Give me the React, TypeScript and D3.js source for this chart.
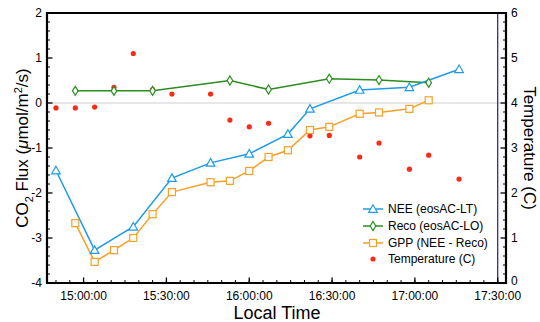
import React from 'react';
import * as d3 from 'd3';

// Data (times are local HH:MM)
const neeTimes = ['14:50', '15:04', '15:18', '15:32', '15:46', '16:00', '16:14', '16:22', '16:40', '16:58', '17:16'];
const neeValues = [-1.5, -3.27, -2.75, -1.67, -1.33, -1.13, -0.69, -0.13, 0.29, 0.35, 0.75];

const recoTimes = ['14:57', '15:11', '15:25', '15:53', '16:07', '16:29', '16:47', '17:05'];
const recoValues = [0.27, 0.27, 0.27, 0.5, 0.3, 0.54, 0.51, 0.45];

const gppTimes = ['14:57', '15:04', '15:11', '15:18', '15:25', '15:32', '15:46', '15:53', '16:00', '16:07', '16:14', '16:22', '16:29', '16:40', '16:47', '16:58', '17:05'];
const gppValues = [-2.67, -3.53, -3.27, -3.0, -2.47, -1.98, -1.76, -1.73, -1.51, -1.2, -1.05, -0.6, -0.53, -0.24, -0.21, -0.13, 0.06];

const tempTimes = ['14:50', '14:57', '15:04', '15:11', '15:18', '15:25', '15:32', '15:46', '15:53', '16:00', '16:07', '16:14', '16:22', '16:29', '16:40', '16:47', '16:58', '17:05', '17:16'];
const tempValues = [3.89, 3.89, 3.91, 4.35, 5.1, 4.3, 4.2, 4.2, 3.62, 3.47, 3.55, 3.29, 3.27, 3.28, 2.8, 3.11, 2.53, 2.84, 2.31];

const xTickLabels = ['15:00:00', '15:30:00', '16:00:00', '16:30:00', '17:00:00', '17:30:00'];
const markerTime = '17:30';

const legendLabels = ['NEE (eosAC-LT)', 'Reco (eosAC-LO)', 'GPP (NEE - Reco)', 'Temperature (C)'];

const W = 540;
const H = 322;
const margin = { top: 13, right: 34, bottom: 39, left: 47 };

const FONT = '"Liberation Sans", Arial, Helvetica, sans-serif';
const C_NEE = '#1f9be6';
const C_RECO = '#2b8c1f';
const C_GPP = '#f6a027';
const C_TEMP = '#fb2a16';

const parseT = (s: string) => {
  const [h, m, sec] = s.split(':').map(Number);
  return new Date(2020, 0, 1, h, m, sec || 0);
};

const Triangle = ({ x, y, c }: { x: number; y: number; c: string }) => (
  <path d={`M${x},${y - 4.3}L${x + 4.3},${y + 3.3}L${x - 4.3},${y + 3.3}Z`} fill="#fff" stroke={c} strokeWidth={1.2} />
);
const Diamond = ({ x, y, c }: { x: number; y: number; c: string }) => (
  <path d={`M${x},${y - 4.5}L${x + 2.8},${y}L${x},${y + 4.5}L${x - 2.8},${y}Z`} fill="#fff" stroke={c} strokeWidth={1.2} />
);
const Square = ({ x, y, c }: { x: number; y: number; c: string }) => (
  <rect x={x - 3.5} y={y - 3.5} width={7} height={7} fill="#fff" stroke={c} strokeWidth={1.2} />
);

export default function App() {
  const iw = W - margin.left - margin.right;
  const ih = H - margin.top - margin.bottom;

  const x = d3.scaleTime()
    .domain([parseT('14:46:45'), parseT('17:33:00')])
    .range([margin.left, margin.left + iw]);
  const y = d3.scaleLinear().domain([-4, 2]).range([margin.top + ih, margin.top]);
  const yT = d3.scaleLinear().domain([0, 6]).range([margin.top + ih, margin.top]);

  const line = (times: string[], vals: number[]) =>
    d3.line<number>().x((_, i) => x(parseT(times[i]))).y(d => y(d))(vals) || '';

  const bottom = margin.top + ih;
  const left = margin.left;
  const right = margin.left + iw;

  const yMajor = d3.range(-4, 2.001, 1);
  const yMinor = d3.range(-4, 2.001, 0.2).filter(v => Math.abs(v - Math.round(v)) > 0.01);
  const tMajor = d3.range(0, 6.001, 1);
  const tMinor = d3.range(0, 6.001, 0.2).filter(v => Math.abs(v - Math.round(v)) > 0.01);
  const xMinor = d3.timeMinute.every(5)!.range(x.domain()[0], x.domain()[1]);

  const legX = 363;
  const legY = [209, 226, 243, 259];

  return (
    <svg width={W} height={H} style={{ position: 'absolute', left: 0, top: 0, background: '#fff' }} fontFamily={FONT}>
      {/* zero line */}
      <line x1={left} x2={right} y1={y(0)} y2={y(0)} stroke="#cfcfcf" strokeWidth={1} />
      {/* vertical marker */}
      <line x1={x(parseT(markerTime))} x2={x(parseT(markerTime))} y1={margin.top} y2={bottom} stroke="#1b1f8a" strokeWidth={1.2} />

      {/* series lines */}
      <path d={line(recoTimes, recoValues)} fill="none" stroke={C_RECO} strokeWidth={1.5} />
      <path d={line(gppTimes, gppValues)} fill="none" stroke={C_GPP} strokeWidth={1.5} />
      <path d={line(neeTimes, neeValues)} fill="none" stroke={C_NEE} strokeWidth={1.5} />

      {tempValues.map((v, i) => (
        <circle key={'t' + i} cx={x(parseT(tempTimes[i]))} cy={yT(v)} r={2.6} fill={C_TEMP} />
      ))}
      {recoValues.map((v, i) => <Diamond key={'r' + i} x={x(parseT(recoTimes[i]))} y={y(v)} c={C_RECO} />)}
      {gppValues.map((v, i) => <Square key={'g' + i} x={x(parseT(gppTimes[i]))} y={y(v)} c={C_GPP} />)}
      {neeValues.map((v, i) => <Triangle key={'n' + i} x={x(parseT(neeTimes[i]))} y={y(v)} c={C_NEE} />)}

      {/* frame */}
      <path d={`M${left},${bottom}V${margin.top}H${right}V${bottom}Z`} fill="none" stroke="#000" strokeWidth={2.2} />

      {/* left axis ticks */}
      {yMinor.map(v => <line key={'ym' + v} x1={left} x2={left + 3} y1={y(v)} y2={y(v)} stroke="#000" strokeWidth={1} />)}
      {yMajor.map(v => (
        <g key={'yM' + v}>
          <line x1={left} x2={left + 5.5} y1={y(v)} y2={y(v)} stroke="#000" strokeWidth={1.3} />
          <text x={left - 5} y={y(v)} dy="0.35em" textAnchor="end" fontSize={12}>{v}</text>
        </g>
      ))}

      {/* right axis ticks */}
      {tMinor.map(v => <line key={'tm' + v} x1={right} x2={right - 3} y1={yT(v)} y2={yT(v)} stroke="#000" strokeWidth={1} />)}
      {tMajor.map(v => (
        <g key={'tM' + v}>
          <line x1={right} x2={right - 5.5} y1={yT(v)} y2={yT(v)} stroke="#000" strokeWidth={1.3} />
          <text x={right + 5} y={yT(v) - (v === 0 ? 2 : 0)} dy="0.35em" textAnchor="start" fontSize={12}>{v}</text>
        </g>
      ))}

      {/* bottom axis ticks */}
      {xMinor.map((d, i) => <line key={'xm' + i} x1={x(d)} x2={x(d)} y1={bottom} y2={bottom - 3} stroke="#000" strokeWidth={1} />)}
      {xTickLabels.map(s => (
        <g key={s}>
          <line x1={x(parseT(s))} x2={x(parseT(s))} y1={bottom} y2={bottom - 5.5} stroke="#000" strokeWidth={1.3} />
          <text x={x(parseT(s))} y={bottom + 12.5} dy="0.35em" textAnchor="middle" fontSize={12}>{s}</text>
        </g>
      ))}

      {/* axis titles */}
      <text x={277} y={313} dy="0.35em" textAnchor="middle" fontSize={18}>Local Time</text>
      <text transform={`translate(22,${(margin.top + bottom) / 2}) rotate(-90)`} textAnchor="middle" dy="0.35em" fontSize={17}>
        CO<tspan fontSize={11} dy="5">2</tspan><tspan dy="-5"> Flux (</tspan><tspan fontStyle="italic">μ</tspan>mol/m<tspan fontSize={11} dy="-6">2</tspan><tspan dy="6">/s)</tspan>
      </text>
      <text transform={`translate(530,${(margin.top + bottom) / 2}) rotate(90)`} textAnchor="middle" dy="0.35em" fontSize={17}>Temperature (C)</text>

      {/* legend */}
      {legendLabels.map((lab, i) => {
        const ly = legY[i];
        const cx = legX + 10;
        return (
          <g key={lab}>
            {i === 0 && <><line x1={legX} x2={legX + 20} y1={ly} y2={ly} stroke={C_NEE} strokeWidth={1.5} /><Triangle x={cx} y={ly} c={C_NEE} /></>}
            {i === 1 && <><line x1={legX} x2={legX + 20} y1={ly} y2={ly} stroke={C_RECO} strokeWidth={1.5} /><Diamond x={cx} y={ly} c={C_RECO} /></>}
            {i === 2 && <><line x1={legX} x2={legX + 20} y1={ly} y2={ly} stroke={C_GPP} strokeWidth={1.5} /><Square x={cx} y={ly} c={C_GPP} /></>}
            {i === 3 && <circle cx={cx} cy={ly} r={2.6} fill={C_TEMP} />}
            <text x={legX + 25} y={ly} dy="0.35em" fontSize={12}>{lab}</text>
          </g>
        );
      })}
    </svg>
  );
}
